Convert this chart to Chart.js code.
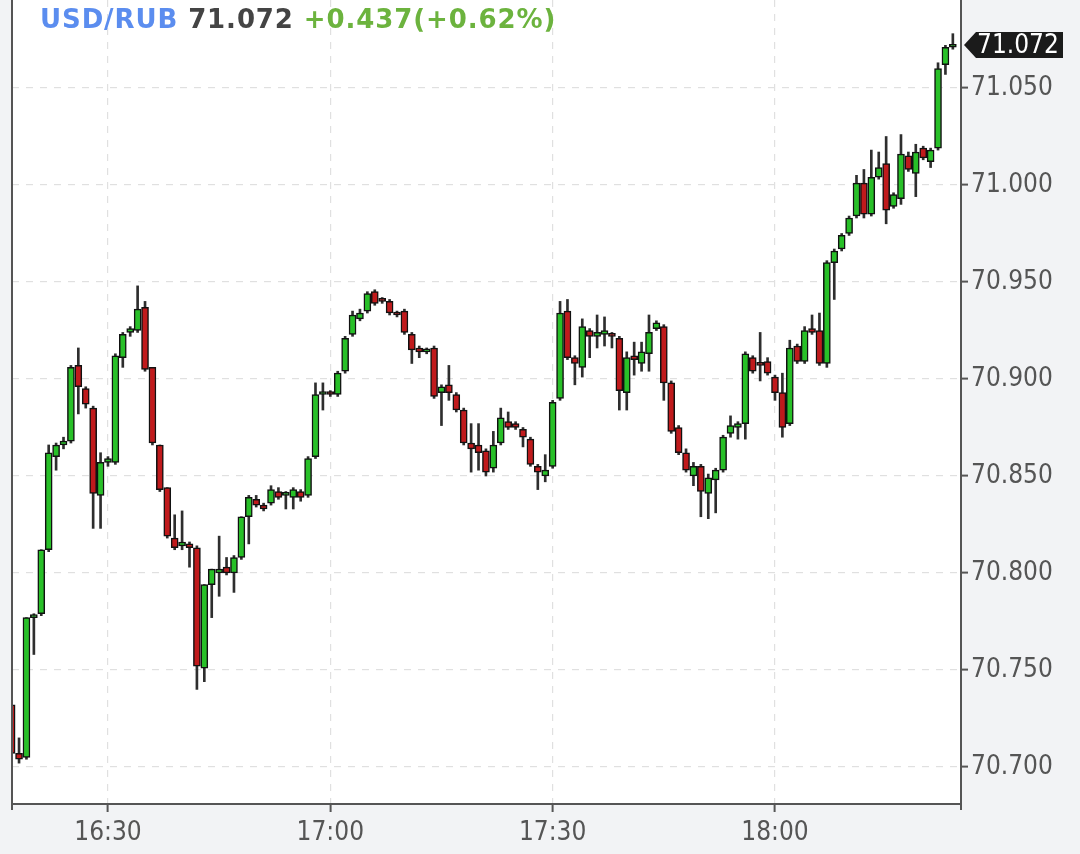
<!DOCTYPE html>
<html><head><meta charset="utf-8">
<script src="https://cdn.jsdelivr.net/npm/chart.js@4"></script>
<style>
html,body{margin:0;padding:0;background:#f2f3f5;overflow:hidden;}
#wrap{position:relative;width:1080px;height:854px;}
#hdr{position:absolute;left:40px;top:4px;font-family:'DejaVu Sans';font-weight:bold;font-size:26px;line-height:30px;letter-spacing:0.9px;white-space:nowrap;z-index:2;}
</style></head><body>
<div id="wrap"><canvas id="c" width="1080" height="854"></canvas>
<div id="hdr"><span style="color:#5b8def">USD/RUB</span> <span style="color:#444">71.072</span> <span style="color:#6cb33e">+0.437(+0.62%)</span></div></div>
<script>
const times = ['16:17','16:18','16:19','16:20','16:21','16:22','16:23','16:24','16:25','16:26','16:27','16:28','16:29',
'16:30','16:31','16:32','16:33','16:34','16:35','16:36','16:37','16:38','16:39','16:40','16:41','16:42','16:43','16:44','16:45','16:46','16:47','16:48','16:49','16:50','16:51','16:52','16:53','16:54','16:55','16:56','16:57','16:58','16:59',
'17:00','17:01','17:02','17:03','17:04','17:05','17:06','17:07','17:08','17:09','17:10','17:11','17:12','17:13','17:14','17:15','17:16','17:17','17:18','17:19','17:20','17:21','17:22','17:23','17:24','17:25','17:26','17:27','17:28','17:29',
'17:30','17:31','17:32','17:33','17:34','17:35','17:36','17:37','17:38','17:39','17:40','17:41','17:42','17:43','17:44','17:45','17:46','17:47','17:48','17:49','17:50','17:51','17:52','17:53','17:54','17:55','17:56','17:57','17:58','17:59',
'18:00','18:01','18:02','18:03','18:04','18:05','18:06','18:07','18:08','18:09','18:10','18:11','18:12','18:13','18:14','18:15','18:16','18:17','18:18','18:19','18:20','18:21','18:22','18:23','18:24'];
const opens = [70.732,70.707,70.705,70.777,70.779,70.812,70.860,70.866,70.868,70.907,70.895,70.885,70.840,
70.857,70.857,70.911,70.924,70.925,70.937,70.906,70.866,70.844,70.818,70.814,70.815,70.813,70.751,70.794,70.800,70.803,70.800,70.808,70.829,70.838,70.835,70.836,70.842,70.840,70.839,70.842,70.840,70.860,70.892,
70.893,70.892,70.904,70.923,70.931,70.935,70.945,70.941,70.940,70.934,70.935,70.923,70.916,70.914,70.916,70.893,70.897,70.892,70.884,70.867,70.866,70.863,70.854,70.867,70.878,70.877,70.874,70.869,70.855,70.850,
70.855,70.890,70.935,70.911,70.906,70.925,70.922,70.923,70.923,70.921,70.893,70.912,70.908,70.913,70.926,70.927,70.898,70.875,70.862,70.850,70.855,70.841,70.848,70.853,70.872,70.875,70.877,70.911,70.908,70.909,
70.901,70.893,70.877,70.917,70.909,70.926,70.925,70.908,70.960,70.967,70.975,70.984,71.001,70.985,71.004,71.011,70.989,70.993,71.015,71.006,71.019,71.012,71.019,71.062,71.071];
const highs = [70.733,70.715,70.777,70.779,70.812,70.866,70.867,70.870,70.907,70.916,70.896,70.886,70.862,
70.860,70.913,70.924,70.927,70.948,70.940,70.906,70.866,70.844,70.830,70.832,70.816,70.814,70.794,70.802,70.819,70.808,70.809,70.829,70.840,70.840,70.836,70.845,70.844,70.842,70.844,70.843,70.860,70.898,70.898,
70.894,70.904,70.922,70.935,70.936,70.945,70.946,70.942,70.941,70.935,70.936,70.924,70.917,70.916,70.917,70.897,70.907,70.893,70.885,70.877,70.877,70.864,70.873,70.885,70.883,70.878,70.875,70.870,70.856,70.861,
70.889,70.940,70.941,70.912,70.931,70.926,70.933,70.932,70.924,70.922,70.914,70.919,70.919,70.933,70.930,70.928,70.899,70.876,70.864,70.857,70.856,70.851,70.854,70.871,70.881,70.878,70.914,70.912,70.924,70.911,
70.902,70.903,70.920,70.918,70.927,70.933,70.934,70.961,70.967,70.975,70.984,71.005,71.008,71.018,71.017,71.025,70.996,71.026,71.017,71.021,71.020,71.019,71.063,71.072,71.078];
const lows = [70.705,70.702,70.704,70.758,70.778,70.811,70.853,70.864,70.867,70.882,70.885,70.823,70.823,
70.855,70.856,70.906,70.922,70.924,70.904,70.866,70.842,70.818,70.812,70.812,70.803,70.740,70.744,70.777,70.788,70.799,70.790,70.807,70.815,70.834,70.832,70.835,70.838,70.833,70.833,70.837,70.839,70.859,70.884,
70.891,70.891,70.903,70.922,70.930,70.934,70.938,70.939,70.933,70.932,70.923,70.908,70.911,70.913,70.890,70.876,70.889,70.883,70.866,70.852,70.853,70.850,70.852,70.866,70.874,70.874,70.865,70.855,70.843,70.847,
70.854,70.889,70.910,70.897,70.901,70.911,70.916,70.917,70.916,70.884,70.884,70.902,70.904,70.904,70.925,70.889,70.872,70.861,70.852,70.845,70.829,70.828,70.831,70.852,70.870,70.869,70.869,70.903,70.899,70.902,
70.889,70.870,70.876,70.908,70.908,70.923,70.907,70.906,70.941,70.966,70.974,70.983,70.983,70.984,71.003,70.980,70.988,70.990,71.007,70.994,71.013,71.009,71.018,71.057,71.070];
const closes = [70.707,70.704,70.777,70.778,70.812,70.862,70.866,70.868,70.906,70.896,70.887,70.841,70.857,
70.859,70.912,70.923,70.926,70.936,70.905,70.867,70.843,70.819,70.813,70.816,70.813,70.752,70.794,70.802,70.802,70.800,70.808,70.829,70.839,70.835,70.833,70.843,70.839,70.841,70.843,70.839,70.859,70.892,70.893,
70.892,70.903,70.921,70.933,70.934,70.944,70.939,70.940,70.934,70.933,70.924,70.915,70.914,70.915,70.891,70.896,70.893,70.884,70.867,70.864,70.862,70.852,70.866,70.880,70.875,70.875,70.870,70.856,70.852,70.853,
70.888,70.934,70.911,70.908,70.927,70.922,70.924,70.925,70.922,70.894,70.911,70.910,70.914,70.924,70.929,70.898,70.873,70.862,70.853,70.855,70.842,70.849,70.853,70.870,70.876,70.877,70.913,70.904,70.907,70.903,
70.893,70.875,70.916,70.909,70.925,70.924,70.908,70.960,70.966,70.974,70.983,71.001,70.985,71.004,71.009,70.987,70.995,71.016,71.008,71.017,71.014,71.018,71.060,71.071,71.072];
const yTickValues = [70.700,70.750,70.800,70.850,70.900,70.950,71.000,71.050];
const xTickLabels = ['16:30','17:00','17:30','18:00'];

// minutes after 16:00
const toMin = t => { const p = t.split(':'); return (+p[0] - 16) * 60 + (+p[1]); };
const X_MIN = 17.05, X_MAX = 145.1;
const UP = '#28c028', DOWN = '#c01a1c';
const FONT = "'DejaVu Sans Condensed','DejaVu Sans'";

const framePlugin = {
  id: 'frame',
  beforeDraw(chart) {
    const {ctx, chartArea: a} = chart;
    ctx.save();
    ctx.fillStyle = '#ffffff';
    ctx.fillRect(a.left, a.top, a.right - a.left, a.bottom - a.top);
    ctx.restore();
  },
  afterDraw(chart) {
    const {ctx, chartArea: a, scales} = chart;
    ctx.save();
    ctx.strokeStyle = '#555'; ctx.lineWidth = 2;
    ctx.beginPath();
    ctx.moveTo(a.left, a.top); ctx.lineTo(a.left, a.bottom + 6);
    ctx.moveTo(a.right, a.bottom); ctx.lineTo(a.right, a.bottom + 6);
    ctx.stroke();
    const v = closes[closes.length - 1];
    const py = Math.round(scales.y.getPixelForValue(v));
    const x0 = a.right + 3;
    ctx.fillStyle = '#1b1b1b';
    ctx.beginPath();
    ctx.moveTo(x0, py);
    ctx.lineTo(x0 + 12, py - 13);
    ctx.lineTo(1063, py - 13);
    ctx.lineTo(1063, py + 13);
    ctx.lineTo(x0 + 12, py + 13);
    ctx.closePath();
    ctx.fill();
    ctx.fillStyle = '#ffffff';
    ctx.font = '26px ' + FONT;
    ctx.textBaseline = 'middle';
    ctx.textAlign = 'left';
    ctx.fillText(v.toFixed(3), x0 + 13, py + 1);
    ctx.restore();
  }
};

const wickData = times.map((t, i) => ({x: toMin(t), y: [lows[i], highs[i]]}));
const bodyData = times.map((t, i) => ({x: toMin(t), y: [opens[i], closes[i]]}));
const bodyColors = times.map((t, i) => closes[i] >= opens[i] ? UP : DOWN);

new Chart(document.getElementById('c'), {
  type: 'bar',
  data: {
    datasets: [
      {label: 'body', data: bodyData, backgroundColor: bodyColors, borderColor: '#111', borderWidth: 1.5,
       borderSkipped: false, barThickness: 7, minBarLength: 3, order: 0, clip: 0},
      {label: 'wick', data: wickData, backgroundColor: '#2e2e2e', borderWidth: 0, barThickness: 2, order: 1, clip: 0}
    ]
  },
  options: {
    responsive: false, animation: false, devicePixelRatio: 1,
    layout: {padding: {left: 12, top: 0, right: 0, bottom: 0}},
    plugins: {legend: {display: false}, tooltip: {enabled: false}},
    datasets: {bar: {grouped: false}},
    scales: {
      x: {
        type: 'linear', min: X_MIN, max: X_MAX, offset: false,
        afterBuildTicks: s => { s.ticks = xTickLabels.map(l => ({value: toMin(l)})).filter(t => t.value >= X_MIN && t.value <= X_MAX); },
        afterFit: s => { s.height = 50; s.paddingLeft = 0; s.paddingRight = 0; },
        ticks: {callback: v => xTickLabels[xTickLabels.map(toMin).indexOf(v)], color: '#555',
                font: {family: FONT, size: 26}, padding: 6, maxRotation: 0, autoSkip: false},
        grid: {offset: false, color: '#e0e0e0', lineWidth: 1.2, tickColor: '#555', tickLength: 8, tickWidth: 2},
        border: {display: true, color: '#555', width: 2, dash: [7, 7]}
      },
      y: {
        position: 'right', min: 70.68093, max: 71.09536,
        afterBuildTicks: s => { s.ticks = yTickValues.map(v => ({value: v})); },
        afterFit: s => { s.width = 119; s.paddingTop = 0; s.paddingBottom = 0; },
        ticks: {callback: v => v.toFixed(3), color: '#555', font: {family: FONT, size: 26}, padding: 3, autoSkip: false},
        grid: {color: '#e0e0e0', lineWidth: 1.2, tickColor: '#555', tickLength: 7, tickWidth: 2},
        border: {display: true, color: '#555', width: 2, dash: [7, 7]}
      }
    }
  },
  plugins: [framePlugin]
});
</script>
</body></html>
